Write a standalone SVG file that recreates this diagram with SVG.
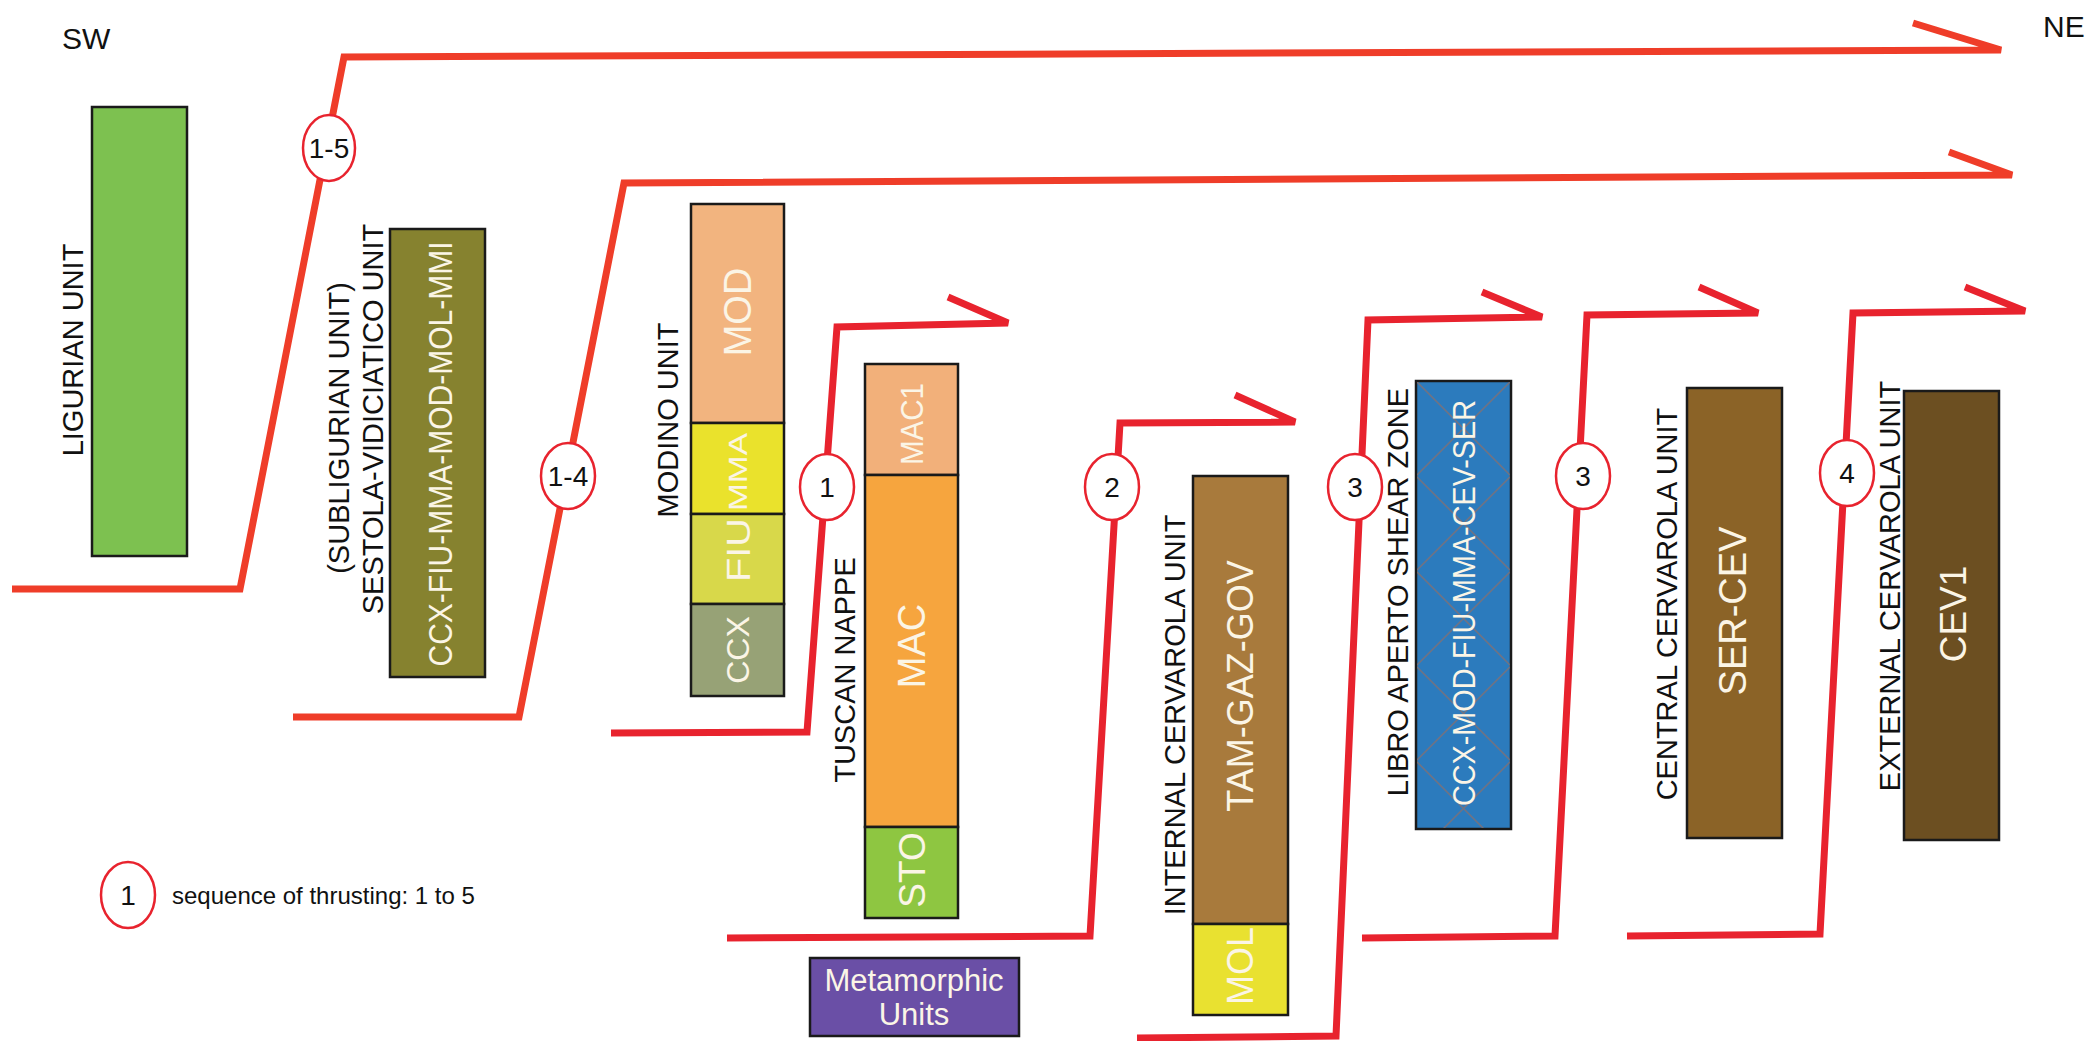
<svg xmlns="http://www.w3.org/2000/svg" width="2085" height="1041" viewBox="0 0 2085 1041">
<style>
text{font-family:"Liberation Sans",Arial,Helvetica,sans-serif;}
.lbl{font-size:29px;fill:#111;text-anchor:middle;}
.wt{fill:#fbf5e6;text-anchor:middle;}
.box{stroke:#1a1a1a;stroke-width:2.5;}
.th1{fill:none;stroke:#ef3d29;stroke-width:7;stroke-linejoin:miter;}
.th2{fill:none;stroke:#e8232e;stroke-width:7;stroke-linejoin:miter;}
.seq ellipse{fill:#fff;stroke:#e8232e;stroke-width:2.5;}
.seq text{font-size:28px;fill:#111;text-anchor:middle;}
.dir{font-size:30px;fill:#111;}
</style>
<defs>
<pattern id="hatch" patternUnits="userSpaceOnUse" x="1416" y="381" width="95" height="95">
<path d="M0,0 L95,95 M95,0 L0,95" stroke="#8a6f6a" stroke-opacity="0.75" stroke-width="1.5" fill="none"/>
</pattern>
</defs>
<rect width="2085" height="1041" fill="#fff"/>

<text class="dir" x="62" y="49">SW</text>
<text class="dir" x="2043" y="37">NE</text>

<g id="connectors">
<polyline class="th1" points="12,589 240,589 344,57 2001,50 1913,23"/>
<polyline class="th1" points="293,717 519,717 624,183 2012,175 1949,152"/>
<polyline class="th2" points="611,733 807,732 837,327 1008,323 948,297"/>
<polyline class="th2" points="727,938 1090,936 1120,423 1295,422 1235,395"/>
<polyline class="th2" points="1137,1038 1336,1036 1368,320 1542,317 1482,292"/>
<polyline class="th2" points="1362,938 1555,936 1587,315 1758,313 1699,287"/>
<polyline class="th2" points="1627,936 1820,934 1853,313 2025,311 1965,287"/>
</g>

<g id="seq-1-5" class="seq"><ellipse cx="329" cy="148" rx="26" ry="33"/><text x="329" y="158">1-5</text></g>
<g id="seq-1-4" class="seq"><ellipse cx="568" cy="476" rx="27" ry="33"/><text x="568" y="486">1-4</text></g>
<g id="seq-1" class="seq"><ellipse cx="827" cy="487" rx="27" ry="33"/><text x="827" y="497">1</text></g>
<g id="seq-2" class="seq"><ellipse cx="1112" cy="487" rx="27" ry="33"/><text x="1112" y="497">2</text></g>
<g id="seq-3a" class="seq"><ellipse cx="1355" cy="487" rx="27" ry="33"/><text x="1355" y="497">3</text></g>
<g id="seq-3b" class="seq"><ellipse cx="1583" cy="476" rx="27" ry="33"/><text x="1583" y="486">3</text></g>
<g id="seq-4" class="seq"><ellipse cx="1847" cy="473" rx="27" ry="33"/><text x="1847" y="483">4</text></g>

<g id="ligurian">
<rect class="box" x="92" y="107" width="95" height="449" fill="#7dc150"/>
<text class="lbl" transform="translate(83,350) rotate(-90)">LIGURIAN UNIT</text>
</g>

<g id="subligurian">
<rect class="box" x="390" y="229" width="95" height="448" fill="#86822f"/>
<text class="wt" font-size="34" textLength="425" lengthAdjust="spacingAndGlyphs" transform="translate(452,454) rotate(-90)">CCX-FIU-MMA-MOD-MOL-MMI</text>
<text class="lbl" font-size="27" transform="translate(349,428) rotate(-90)">(SUBLIGURIAN UNIT)</text>
<text class="lbl" transform="translate(383,419) rotate(-90)">SESTOLA-VIDICIATICO UNIT</text>
</g>

<g id="modino">
<rect class="box" x="691" y="204" width="93" height="219" fill="#f2b47f"/>
<rect class="box" x="691" y="423" width="93" height="91" fill="#eae22c"/>
<rect class="box" x="691" y="514" width="93" height="90" fill="#d8d84a"/>
<rect class="box" x="691" y="604" width="93" height="92" fill="#97a276"/>
<text class="wt" font-size="38" transform="translate(751,312) rotate(-90)">MOD</text>
<text class="wt" font-size="26" textLength="78" lengthAdjust="spacingAndGlyphs" transform="translate(747,472) rotate(-90)">MMA</text>
<text class="wt" font-size="34" textLength="64" lengthAdjust="spacingAndGlyphs" transform="translate(750,550) rotate(-90)">FIU</text>
<text class="wt" font-size="32" transform="translate(749,650) rotate(-90)">CCX</text>
<text class="lbl" transform="translate(678,420) rotate(-90)">MODINO UNIT</text>
</g>

<g id="tuscan">
<rect class="box" x="865" y="364" width="93" height="111" fill="#f2b07a"/>
<rect class="box" x="865" y="475" width="93" height="352" fill="#f6a53e"/>
<rect class="box" x="865" y="827" width="93" height="91" fill="#8ec641"/>
<text class="wt" font-size="32" textLength="82" lengthAdjust="spacingAndGlyphs" transform="translate(923,424) rotate(-90)">MAC1</text>
<text class="wt" font-size="38" transform="translate(925,646) rotate(-90)">MAC</text>
<text class="wt" font-size="37" transform="translate(925,870) rotate(-90)">STO</text>
<text class="lbl" transform="translate(855,670) rotate(-90)">TUSCAN NAPPE</text>
</g>

<g id="metamorphic">
<rect class="box" x="810" y="958" width="209" height="78" fill="#6a4fa6"/>
<text class="wt" font-size="31" x="914" y="991">Metamorphic</text>
<text class="wt" font-size="31" x="914" y="1025">Units</text>
</g>

<g id="internal-cervarola">
<rect class="box" x="1193" y="476" width="95" height="448" fill="#a87a3c"/>
<rect class="box" x="1193" y="924" width="95" height="91" fill="#e9e130"/>
<text class="wt" font-size="36" transform="translate(1253,686) rotate(-90)">TAM-GAZ-GOV</text>
<text class="wt" font-size="36" transform="translate(1253,966) rotate(-90)">MOL</text>
<text class="lbl" transform="translate(1185,715) rotate(-90)">INTERNAL CERVAROLA UNIT</text>
</g>

<g id="libro-aperto">
<rect class="box" x="1416" y="381" width="95" height="448" fill="#2c7bbd"/>
<rect x="1417" y="382" width="93" height="446" fill="url(#hatch)"/>
<text class="wt" font-size="31" textLength="406" lengthAdjust="spacingAndGlyphs" transform="translate(1475,603) rotate(-90)">CCX-MOD-FIU-MMA-CEV-SER</text>
<text class="lbl" transform="translate(1408,592) rotate(-90)">LIBRO APERTO SHEAR ZONE</text>
</g>

<g id="central-cervarola">
<rect class="box" x="1687" y="388" width="95" height="450" fill="#8b6327"/>
<text class="wt" font-size="38" transform="translate(1746,611) rotate(-90)">SER-CEV</text>
<text class="lbl" transform="translate(1677,604) rotate(-90)">CENTRAL CERVAROLA UNIT</text>
</g>

<g id="external-cervarola">
<rect class="box" x="1904" y="391" width="95" height="449" fill="#6c4f21"/>
<text class="wt" font-size="37" transform="translate(1966,614) rotate(-90)">CEV1</text>
<text class="lbl" transform="translate(1900,586) rotate(-90)">EXTERNAL CERVAROLA UNIT</text>
</g>

<g id="legend" class="seq">
<ellipse cx="128" cy="895" rx="27" ry="33"/>
<text x="128" y="905">1</text>
<text x="172" y="904" style="font-size:24px;text-anchor:start">sequence of thrusting: 1 to 5</text>
</g>
</svg>
